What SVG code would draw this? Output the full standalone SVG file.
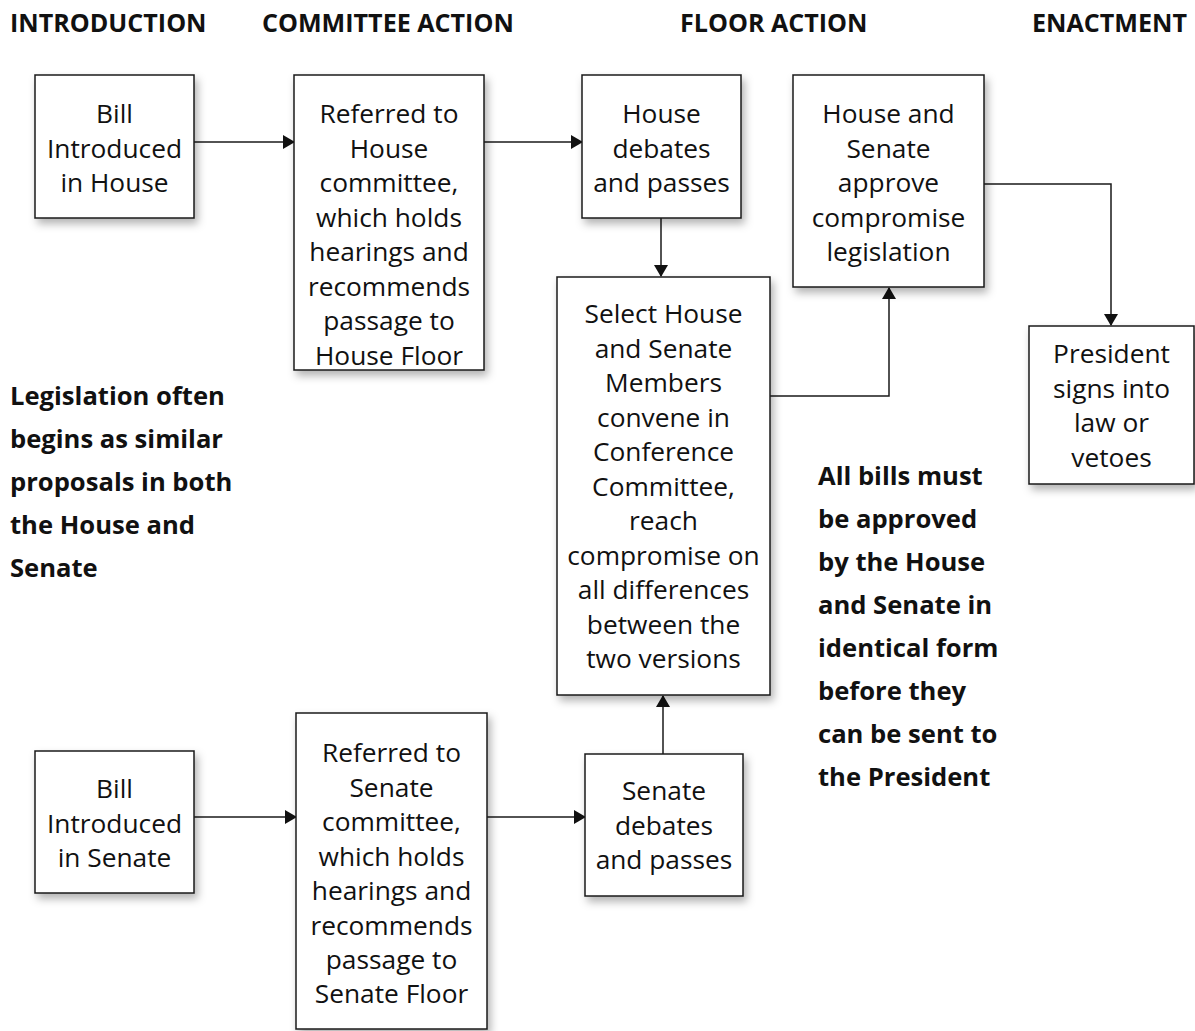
<svg xmlns="http://www.w3.org/2000/svg" width="1195" height="1031" viewBox="0 0 1195 1031">
<style>
  .box { fill: #ffffff; stroke: #1a1a1a; stroke-width: 1.5; filter: url(#shadow); }
  .t { font-family: "Open Sans", "Noto Sans", sans-serif; font-size: 26.3px; fill: #111; text-anchor: middle; }
  .h { font-family: "Open Sans", "Noto Sans", sans-serif; font-size: 25.1px; font-weight: bold; fill: #111; }
  .n { font-family: "Open Sans", "Noto Sans", sans-serif; font-size: 25.6px; font-weight: bold; fill: #111; }
  .c { fill: none; stroke: #1a1a1a; stroke-width: 1.5; marker-end: url(#arr); }
</style>
<defs>
  <filter id="shadow" x="-20%" y="-20%" width="150%" height="150%">
    <feDropShadow dx="3" dy="5" stdDeviation="4" flood-color="#000" flood-opacity="0.3"/>
  </filter>
  <marker id="arr" viewBox="0 0 12 14" refX="11" refY="7" markerWidth="12" markerHeight="14" markerUnits="userSpaceOnUse" orient="auto">
    <path d="M0,0 L12,7 L0,14 Z" fill="#111"/>
  </marker>
</defs>
<rect width="1195" height="1031" fill="#ffffff"/>

<g id="headers">
  <text class="h" x="10" y="32">INTRODUCTION</text>
  <text class="h" x="262" y="32">COMMITTEE ACTION</text>
  <text class="h" x="680" y="32">FLOOR ACTION</text>
  <text class="h" x="1032" y="32">ENACTMENT</text>
</g>

<g id="connectors">
  <path class="c" d="M194,142 L294,142"/>
  <path class="c" d="M484,142 L582,142"/>
  <path class="c" d="M661,218 L661,276"/>
  <path class="c" d="M770,396 L889,396 L889,288"/>
  <path class="c" d="M984,184 L1111,184 L1111,325"/>
  <path class="c" d="M194,817 L296,817"/>
  <path class="c" d="M487,817 L585,817"/>
  <path class="c" d="M663,754 L663,696"/>
</g>

<g id="n1">
  <rect class="box" x="35" y="75" width="159" height="143"/>
  <text class="t" x="114.5" y="123">Bill</text>
  <text class="t" x="114.5" y="158">Introduced</text>
  <text class="t" x="114.5" y="192">in House</text>
</g>
<g id="n2">
  <rect class="box" x="294" y="75" width="190" height="295"/>
  <text class="t" x="389" y="123">Referred to</text>
  <text class="t" x="389" y="158">House</text>
  <text class="t" x="389" y="192">committee,</text>
  <text class="t" x="389" y="227">which holds</text>
  <text class="t" x="389" y="261">hearings and</text>
  <text class="t" x="389" y="296">recommends</text>
  <text class="t" x="389" y="330">passage to</text>
  <text class="t" x="389" y="365">House Floor</text>
</g>
<g id="n3">
  <rect class="box" x="582" y="75" width="159" height="143"/>
  <text class="t" x="661.5" y="123">House</text>
  <text class="t" x="661.5" y="158">debates</text>
  <text class="t" x="661.5" y="192">and passes</text>
</g>
<g id="n4">
  <rect class="box" x="557" y="277" width="213" height="418"/>
  <text class="t" x="663.5" y="323">Select House</text>
  <text class="t" x="663.5" y="358">and Senate</text>
  <text class="t" x="663.5" y="392">Members</text>
  <text class="t" x="663.5" y="427">convene in</text>
  <text class="t" x="663.5" y="461">Conference</text>
  <text class="t" x="663.5" y="496">Committee,</text>
  <text class="t" x="663.5" y="530">reach</text>
  <text class="t" x="663.5" y="565">compromise on</text>
  <text class="t" x="663.5" y="599">all differences</text>
  <text class="t" x="663.5" y="634">between the</text>
  <text class="t" x="663.5" y="668">two versions</text>
</g>
<g id="n5">
  <rect class="box" x="793" y="75" width="191" height="212"/>
  <text class="t" x="888.5" y="123">House and</text>
  <text class="t" x="888.5" y="158">Senate</text>
  <text class="t" x="888.5" y="192">approve</text>
  <text class="t" x="888.5" y="227">compromise</text>
  <text class="t" x="888.5" y="261">legislation</text>
</g>
<g id="n6">
  <rect class="box" x="1029" y="326" width="165" height="158"/>
  <text class="t" x="1111.5" y="363">President</text>
  <text class="t" x="1111.5" y="398">signs into</text>
  <text class="t" x="1111.5" y="432">law or</text>
  <text class="t" x="1111.5" y="467">vetoes</text>
</g>
<g id="n7">
  <rect class="box" x="35" y="751" width="159" height="142"/>
  <text class="t" x="114.5" y="798">Bill</text>
  <text class="t" x="114.5" y="833">Introduced</text>
  <text class="t" x="114.5" y="867">in Senate</text>
</g>
<g id="n8">
  <rect class="box" x="296" y="713" width="191" height="316"/>
  <text class="t" x="391.5" y="762">Referred to</text>
  <text class="t" x="391.5" y="797">Senate</text>
  <text class="t" x="391.5" y="831">committee,</text>
  <text class="t" x="391.5" y="866">which holds</text>
  <text class="t" x="391.5" y="900">hearings and</text>
  <text class="t" x="391.5" y="935">recommends</text>
  <text class="t" x="391.5" y="969">passage to</text>
  <text class="t" x="391.5" y="1003">Senate Floor</text>
</g>
<g id="n9">
  <rect class="box" x="585" y="754" width="158" height="142"/>
  <text class="t" x="664" y="800">Senate</text>
  <text class="t" x="664" y="835">debates</text>
  <text class="t" x="664" y="869">and passes</text>
</g>

<g id="note-left">
  <text class="n" x="10" y="405">Legislation often</text>
  <text class="n" x="10" y="448">begins as similar</text>
  <text class="n" x="10" y="491">proposals in both</text>
  <text class="n" x="10" y="534">the House and</text>
  <text class="n" x="10" y="577">Senate</text>
</g>
<g id="note-right">
  <text class="n" x="818" y="485">All bills must</text>
  <text class="n" x="818" y="528">be approved</text>
  <text class="n" x="818" y="571">by the House</text>
  <text class="n" x="818" y="614">and Senate in</text>
  <text class="n" x="818" y="657">identical form</text>
  <text class="n" x="818" y="700">before they</text>
  <text class="n" x="818" y="743">can be sent to</text>
  <text class="n" x="818" y="786">the President</text>
</g>
</svg>
